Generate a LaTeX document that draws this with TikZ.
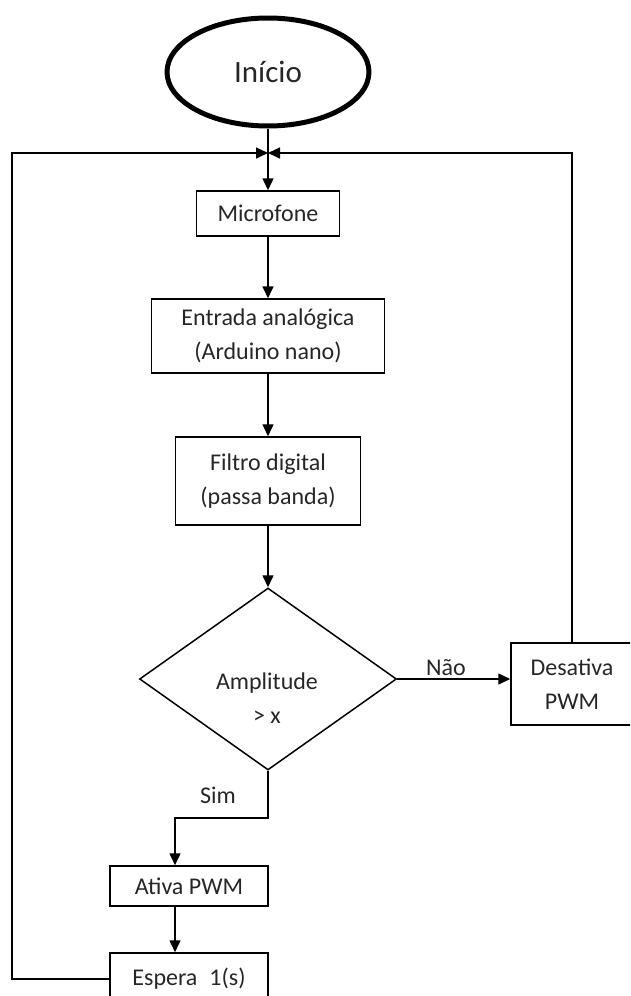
\documentclass[tikz,border=0pt]{standalone}
\usepackage{fontspec}
\setmainfont{Carlito}
\usetikzlibrary{shapes.geometric,arrows.meta}
\begin{document}
\begin{tikzpicture}[x=1pt,y=-1pt,
  box/.style={draw,line width=1.5pt,inner sep=0pt,align=center,
    font=\fontsize{24}{34}\selectfont,text=black!85},
  conn/.style={line width=1.5pt},
  arr/.style={conn,-{Triangle[length=12pt,width=11pt]}},
  lbl/.style={font=\fontsize{24}{34}\selectfont,text=black!85,inner sep=0pt}]
\useasboundingbox (0,0) rectangle (630,996);
\clip (0,0) rectangle (630,996);

% nodes
\node[draw,ellipse,line width=5pt,minimum width=202pt,minimum height=108pt,
  inner sep=0pt,font=\fontsize{31}{36}\selectfont,text=black!85] (ini) at (268,72) {Início};
\node[box,minimum width=143pt,minimum height=45pt] (mic) at (268,213.5) {Microfone};
\node[box,minimum width=233pt,minimum height=74pt] (ent) at (268,336) {Entrada analógica\\(Arduino nano)};
\node[box,minimum width=185pt,minimum height=88pt] (fil) at (268,481) {Filtro digital\\(passa banda)};
\node[draw,diamond,line width=1.5pt,inner sep=0pt,minimum width=257pt,minimum height=182pt,
  shape aspect=1.41] (dec) at (268,679) {};
\node[lbl,align=center] (dectxt) at (267,698) {Amplitude\\> x};
\node[box,minimum width=122pt,minimum height=82pt] (des) at (572,684) {Desativa\\PWM};
\node[box,minimum width=158pt,minimum height=40pt] (ati) at (189,886) {Ativa PWM};
\node[box,minimum width=158pt,minimum height=52pt] (esp) at (189,979) {Espera\enspace 1(s)};

\coordinate (top) at (268,153);
\coordinate (loopL) at (12,153);
\coordinate (simc) at (175,818);

% labels
\node[lbl] (nao) at (446,668) {Não};
\node[lbl] (sim) at (218,795) {Sim};

% connectors
\draw[arr] (ini.south) -- (mic.north);
\draw[arr] (mic.south) -- (ent.north);
\draw[arr] (ent.south) -- (fil.north);
\draw[arr] (fil.south) -- (dec.north);
\draw[arr] (dec.east) -- (dec.east -| des.west);
\draw[arr] (dec.south) |- (simc) -- (simc |- ati.north);
\draw[arr] (simc |- ati.south) -- (simc |- esp.north);
\draw[arr] (esp.west) -| (loopL) -- (top);
\draw[arr] (des.north) |- (top);
\end{tikzpicture}
\end{document}
